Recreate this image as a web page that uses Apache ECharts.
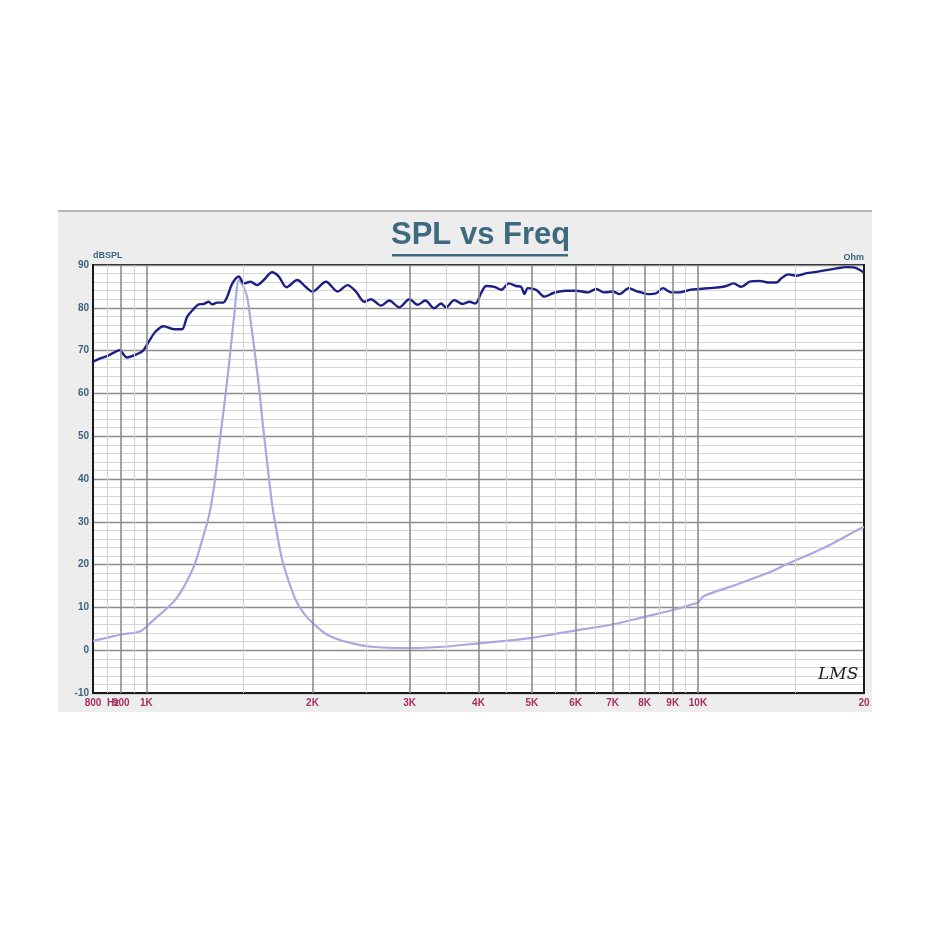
<!DOCTYPE html>
<html><head><meta charset="utf-8">
<script src="https://cdn.jsdelivr.net/npm/echarts@6/dist/echarts.min.js"></script>
<style>html,body{margin:0;padding:0;background:#fff}#c{width:945px;height:945px}</style>
</head><body><div id="c"></div>
<script>
// SPL response (Hz, dB)
const splFreq = [800,825,848,872,893,922,954,986,1010,1038,1075,1121,1160,1185,1215,1244,1271,1297,1315,1343,1377,1401,1430,1471,1502,1544,1588,1632,1690,1738,1794,1877,1943,2000,2116,2221,2315,2398,2483,2553,2662,2756,2874,2997,3103,3204,3325,3421,3493,3617,3744,3851,3948,4043,4129,4275,4396,4538,4681,4780,4846,4914,5089,5269,5455,5610,5769,6013,6312,6537,6768,7008,7206,7492,7727,7890,8111,8400,8637,8945,9258,9658,10070,10497,10944,11255,11603,11984,12408,12939,13396,13871,14168,14563,15083,15729,16396,17095,17825,18585,19242,19793,20000];
const splDb = [67.4,68.2,68.7,69.5,70.1,68.4,69.0,70.0,72.1,74.4,75.7,75.0,75.0,77.9,79.6,80.8,80.9,81.4,80.8,81.2,81.2,82.6,85.6,87.3,85.7,86.1,85.3,86.5,88.3,87.3,84.8,86.5,84.9,83.8,86.1,83.8,85.3,83.8,81.4,82.0,80.5,81.7,80.1,82.0,80.7,81.7,79.9,81.0,80.1,81.8,80.9,81.4,81.0,83.4,85.1,84.9,84.2,85.7,85.1,84.9,83.2,84.6,84.2,82.6,83.4,83.8,84.0,84.0,83.6,84.4,83.6,83.8,83.2,84.6,83.9,83.6,83.2,83.4,84.6,83.6,83.6,84.2,84.4,84.6,84.8,85.1,85.7,84.9,86.1,86.3,85.9,85.9,86.9,87.8,87.5,88.1,88.4,88.8,89.2,89.5,89.4,88.6,88.2];
// Impedance (Hz, Ohm)
const impFreq = [800,848,895,970,994,1019,1046,1090,1136,1185,1225,1267,1299,1327,1355,1383,1412,1442,1472,1498,1523,1548,1574,1601,1628,1655,1690,1726,1763,1807,1861,1924,2000,2127,2294,2557,3000,3454,4000,4476,5000,5447,6000,7000,8000,9000,9817,10000,10240,11413,13490,14543,16975,19730,20000];
const impOhm = [2.2,2.9,3.6,4.3,5.2,6.5,7.8,9.8,12.3,16.2,20.3,26.5,31.5,38.5,48,57,67,78,86.5,85,82.5,76,69,61,52,44,34,27,21,16.5,12,8.8,6.4,3.6,2.0,0.8,0.5,0.8,1.6,2.2,2.9,3.7,4.6,6.0,7.8,9.4,10.8,11.1,12.6,14.8,18.2,20.2,24.0,28.5,28.8];
// Axis ticks
const freqTicks = [800,870,900,1000,2000,3000,4000,5000,6000,7000,8000,9000,10000,20000];
const freqTickLabels = ['800','Hz','900','1K','2K','3K','4K','5K','6K','7K','8K','9K','10K','20'];
const majorFreqLines = [900,1000,2000,3000,4000,5000,6000,7000,8000,9000,10000];
const minorFreqLines = [850,950,1500,2500,3500,4500,5500,6500,7500,8500,9500,15000];

const chart = echarts.init(document.getElementById('c'), null, {renderer:'canvas'});
const gridL = 93, gridR = 81, gridT = 265, gridB = 252;
const vLines = minorFreqLines.map(f => ({xAxis:f, lineStyle:{color:'#d2d2d2', width:1, type:'solid'}}))
  .concat(majorFreqLines.map(f => ({xAxis:f, lineStyle:{color:'#8c8c8c', width:1.6, type:'solid'}})));
const labelMap = {};
freqTicks.forEach((f,i)=>labelMap[f]=freqTickLabels[i]);

chart.setOption({
  animation:false,
  backgroundColor:'#ffffff',
  graphic:[
    {type:'rect', z:-10, silent:true, shape:{x:58,y:211,width:814,height:501}, style:{fill:'#ededed'}},
    {type:'rect', z:-9, silent:true, shape:{x:58,y:210,width:814,height:2}, style:{fill:'#b8b8b8'}},
    {type:'text', left:391, top:220, style:{text:'SPL vs Freq', fill:'#3e6a80', font:'bold 31px "Liberation Sans", Arial, sans-serif'}},
    {type:'rect', silent:true, shape:{x:392,y:254,width:176,height:2.5}, style:{fill:'#3e6a80'}},
    {type:'text', z:50, left:818, top:666, style:{text:'LMS', fill:'#222', font:'italic 17px "DejaVu Serif", serif'}}
  ],
  grid:{left:gridL, right:gridR, top:gridT, bottom:gridB, show:true, backgroundColor:'#ffffff', borderColor:'#1a1a1a', borderWidth:2},
  xAxis:{
    type:'log', logBase:10, min:800, max:20000,
    axisLine:{show:true, onZero:false, lineStyle:{color:'#1a1a1a', width:2}},
    axisTick:{show:false},
    splitLine:{show:false},
    minorSplitLine:{show:false},
    axisLabel:{
      customValues:freqTicks,
      formatter:(v)=>{ const k = Math.round(v); return labelMap[k] !== undefined ? labelMap[k] : ''; },
      color:'#a8305e', fontSize:10, fontWeight:'bold', fontFamily:'"Liberation Sans", Arial, sans-serif', margin:5, hideOverlap:false
    }
  },
  yAxis:[{
    type:'value', min:-10, max:90, interval:10,
    name:'dBSPL', nameLocation:'end', nameGap:3,
    nameTextStyle:{align:'left', color:'#3a6482', fontSize:9, fontWeight:'bold', fontFamily:'"Liberation Sans", Arial, sans-serif'},
    axisLine:{show:true, lineStyle:{color:'#1a1a1a', width:2}},
    axisTick:{show:false},
    axisLabel:{color:'#3a6482', fontSize:10, fontWeight:'bold', fontFamily:'"Liberation Sans", Arial, sans-serif', margin:4},
    splitLine:{show:true, lineStyle:{color:'#8c8c8c', width:1.4}},
    minorTick:{show:false, splitNumber:5},
    minorSplitLine:{show:true, lineStyle:{color:'#d6d6d6', width:1}}
  },{
    type:'value', min:-10, max:90, interval:10, position:'right',
    name:'Ohm', nameLocation:'end', nameGap:3,
    nameTextStyle:{align:'right', color:'#3a6482', fontSize:9, fontWeight:'bold', fontFamily:'"Liberation Sans", Arial, sans-serif'},
    axisLine:{show:true, lineStyle:{color:'#1a1a1a', width:2}},
    axisTick:{show:false}, axisLabel:{show:false}, splitLine:{show:false}
  }],
  series:[
    {type:'line', name:'grid', data:[], z:1, silent:true,
     markLine:{silent:true, symbol:'none', label:{show:false}, animation:false, data:vLines}},
    {type:'line', name:'Impedance', yAxisIndex:1, z:3, showSymbol:false, smooth:0.3,
     data:impFreq.map((f,i)=>[f, impOhm[i]]), lineStyle:{color:'#a9a9e2', width:2.2}},
    {type:'line', name:'SPL', z:4, showSymbol:false, smooth:0.3,
     data:splFreq.map((f,i)=>[f, splDb[i]]), lineStyle:{color:'#1c1f86', width:2.4}}
  ]
});
</script></body></html>
